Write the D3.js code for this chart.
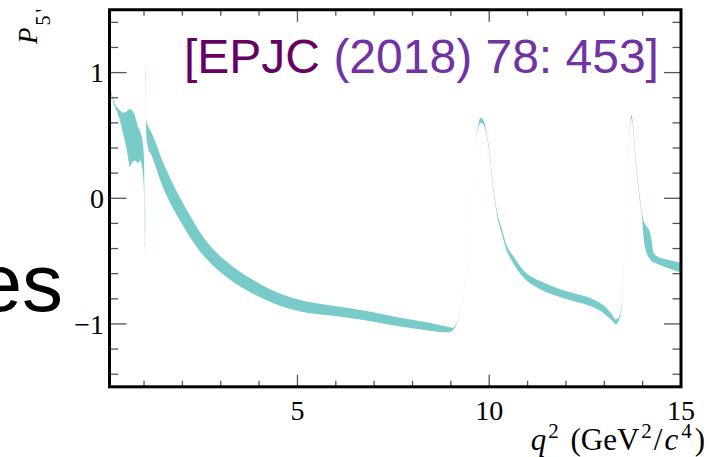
<!DOCTYPE html>
<html>
<head>
<meta charset="utf-8">
<script src="https://cdn.jsdelivr.net/npm/d3@7"></script>
<style>
html,body{margin:0;padding:0;background:#fff;}
svg{display:block;}
</style>
</head>
<body>
<script>
// ---- data ----
const q2 = [0.10,0.19,0.28,0.37,0.45,0.54,0.58,0.63,0.68,0.76,0.84,0.90,0.97,1.00,1.015,1.025,1.035,1.045,1.06,
  1.10,1.20,1.30,1.45,1.60,1.80,2.00,2.20,2.40,2.65,2.90,3.30,3.76,4.37,5.07,5.93,6.80,7.67,8.30,8.70,8.95,
  9.05,9.15,9.24,9.33,9.41,9.48,9.54,9.63,9.71,9.78,9.82,9.88,9.93,10.02,10.10,10.19,10.32,10.45,10.63,10.89,
  11.32,11.76,12.19,12.63,12.97,13.19,13.30,13.36,13.45,13.51,13.56,13.62,13.67,13.71,13.75,13.80,13.86,13.93,
  13.99,14.02,14.07,14.12,14.18,14.23,14.28,14.40,14.60,14.80,15.00];
const p5Lower = [0.90,0.77,0.70,0.62,0.52,0.40,0.33,0.25,0.28,0.30,0.28,0.30,0.20,0.02,-0.30,-0.42,-0.10,0.95,0.50,
  0.41,0.34,0.255,0.12,0.015,-0.105,-0.21,-0.31,-0.40,-0.49,-0.565,-0.66,-0.745,-0.835,-0.90,-0.935,-0.972,-1.02,-1.048,-1.063,-1.065,
  -1.05,-1.005,-0.923,-0.762,-0.553,-0.283,-0.023,0.377,0.56,0.60,0.595,0.565,0.505,0.318,0.078,-0.108,-0.275,-0.41,-0.518,-0.628,
  -0.722,-0.778,-0.818,-0.858,-0.91,-0.969,-1.004,-0.985,-0.875,-0.555,-0.155,0.293,0.557,0.632,0.552,0.365,0.155,-0.03,
  -0.17,-0.30,-0.40,-0.45,-0.48,-0.50,-0.51,-0.525,-0.55,-0.57,-0.59];
const p5Upper = [0.92,0.79,0.73,0.70,0.68,0.69,0.70,0.71,0.70,0.66,0.57,0.53,0.44,0.30,-0.10,-0.36,0.20,1.06,0.62,
  0.58,0.52,0.445,0.32,0.215,0.085,-0.03,-0.14,-0.24,-0.35,-0.435,-0.54,-0.635,-0.735,-0.81,-0.855,-0.897,-0.95,-0.983,-1.008,-1.025,
  -1.03,-0.995,-0.917,-0.758,-0.547,-0.277,-0.017,0.383,0.58,0.64,0.635,0.595,0.525,0.342,0.102,-0.082,-0.235,-0.37,-0.462,-0.572,
  -0.657,-0.713,-0.753,-0.793,-0.85,-0.919,-0.964,-0.955,-0.855,-0.539,-0.143,0.307,0.577,0.662,0.582,0.395,0.185,0.0,
  -0.13,-0.17,-0.21,-0.23,-0.26,-0.33,-0.43,-0.465,-0.485,-0.50,-0.515];
const xMajorTicks = [5,10,15];
const xMinorTicks = [1,2,3,4,6,7,8,9,11,12,13,14];
const yMajorTicks = [-1,0,1];
const yMinorTicks = [-1.4,-1.2,-0.8,-0.6,-0.4,-0.2,0.2,0.4,0.6,0.8,1.2,1.4];
const yTickLabels = ["\u22121","0","1"];
const xTickLabels = ["5","10","15"];
const titleParts = ["[EPJC ", "(2018) 78: 453]"];

// ---- layout ----
const W = 710, H = 457;
const L = 109.5, R = 681, T = 9.75, B = 386.8;
const x = d3.scaleLinear().domain([0.1, 15]).range([L, R]);
const y = d3.scaleLinear().domain([-1.5, 1.5]).range([B, T]);

const svg = d3.select("body").append("svg").attr("width", W).attr("height", H);

svg.append("defs").append("clipPath").attr("id","clip")
  .append("rect").attr("x", L).attr("y", T).attr("width", R - L).attr("height", B - T);

const band = q2.map((q, i) => ({q, lo: p5Lower[i], hi: p5Upper[i]}));
const area = d3.area()
  .x(d => x(d.q)).y0(d => y(d.lo)).y1(d => y(d.hi))
  .curve(d3.curveMonotoneX);
svg.append("path").datum(band)
  .attr("clip-path","url(#clip)")
  .attr("d", area)
  .attr("fill", "#79cbca")
  .attr("stroke", "none");

// ---- ticks (ROOT style, all four sides, inward) ----
const tg = svg.append("g").attr("stroke", "#555").attr("stroke-width", 1.3);
function xt(vals, len) {
  vals.forEach(v => {
    tg.append("line").attr("x1", x(v)).attr("x2", x(v)).attr("y1", B).attr("y2", B - len);
    tg.append("line").attr("x1", x(v)).attr("x2", x(v)).attr("y1", T).attr("y2", T + len);
  });
}
function yt(vals, len) {
  vals.forEach(v => {
    tg.append("line").attr("y1", y(v)).attr("y2", y(v)).attr("x1", L).attr("x2", L + len);
    tg.append("line").attr("y1", y(v)).attr("y2", y(v)).attr("x1", R).attr("x2", R - len);
  });
}
xt(xMajorTicks, 12); xt(xMinorTicks, 6);
yt(yMajorTicks, 17); yt(yMinorTicks, 8.5);

// frame
svg.append("rect").attr("x", L).attr("y", T).attr("width", R - L).attr("height", B - T)
  .attr("fill", "none").attr("stroke", "#000").attr("stroke-width", 3);

// ---- tick labels ----
const serif = "'Liberation Serif','DejaVu Serif',serif";
svg.append("g").selectAll("text").data(yMajorTicks).join("text")
  .attr("x", 104).attr("y", d => y(d)).attr("dy", "0.35em")
  .attr("text-anchor", "end").attr("font-family", serif).attr("font-size", 28).attr("fill", "#000")
  .text((d, i) => yTickLabels[i]);
svg.append("g").selectAll("text").data(xMajorTicks).join("text")
  .attr("x", d => x(d)).attr("y", 420)
  .attr("text-anchor", "middle").attr("font-family", serif).attr("font-size", 28).attr("fill", "#000")
  .text((d, i) => xTickLabels[i]);

// x axis title
const xtit = svg.append("text").attr("x", 705).attr("y", 450).attr("text-anchor", "end")
  .attr("font-family", serif).attr("font-size", 31).attr("fill", "#000");
xtit.append("tspan").attr("font-style", "italic").text("q");
xtit.append("tspan").attr("font-size", 21).attr("dy", -12).attr("dx", 2).text("2");
xtit.append("tspan").attr("dy", 12).attr("dx", 4).text(" (GeV");
xtit.append("tspan").attr("font-size", 21).attr("dy", -12).attr("dx", 2).text("2");
xtit.append("tspan").attr("dy", 12).attr("dx", 2).text("/");
xtit.append("tspan").attr("font-style", "italic").attr("dx", 2).text("c");
xtit.append("tspan").attr("font-size", 21).attr("dy", -12).attr("dx", 3).text("4");
xtit.append("tspan").attr("dy", 12).attr("dx", 3).text(")");

// y axis title P'_5 (rotated)
const ytit = svg.append("text").attr("transform", "translate(37,44) rotate(-90)")
  .attr("font-family", serif).attr("font-size", 27).attr("fill", "#000");
ytit.append("tspan").attr("font-style", "italic").text("P");
ytit.append("tspan").attr("font-size", 20).attr("dy", 13).attr("dx", 2).text("5");
ytit.append("tspan").attr("font-size", 20).attr("dy", 0).attr("dx", 3).text("'");

// leftover slide text
svg.append("text").attr("x", 63).attr("y", 311).attr("text-anchor", "end")
  .attr("font-family", "'Liberation Sans',Arial,sans-serif").attr("font-size", 82).attr("fill", "#000")
  .text("es");

// reference label
const tt = svg.append("text").attr("x", 184).attr("y", 73)
  .attr("font-family", "'Liberation Sans',Arial,sans-serif").attr("font-size", 48);
tt.append("tspan").attr("fill", "#660061").text(titleParts[0]);
tt.append("tspan").attr("fill", "#7132a2").text(titleParts[1]);
</script>
</body>
</html>
